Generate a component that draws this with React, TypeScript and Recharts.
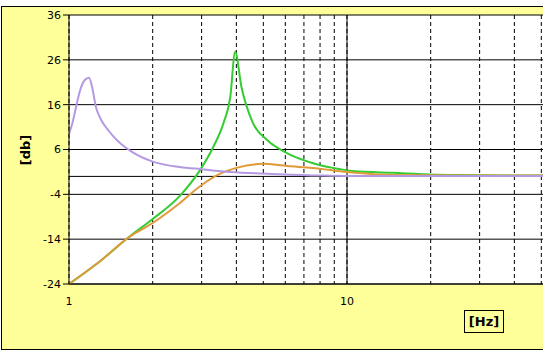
import React from 'react';
import { LineChart, Line, XAxis, YAxis, CartesianGrid, ReferenceLine } from 'recharts';

// frequency [Hz] / level [db]
const purpleHz = [1, 1.03, 1.06, 1.1, 1.14, 1.18, 1.21, 1.25, 1.3, 1.38, 1.46, 1.69, 2, 2.5, 3, 3.8, 5.7, 8, 10, 20, 50, 100];
const purpleDb = [9.5, 12, 15.5, 19.5, 21.5, 22, 20, 15.5, 12.8, 10.4, 8.6, 5.4, 3.3, 2.1, 1.6, 1.0, 0.5, 0.2, 0.1, 0.1, 0.1, 0.1];

const greenHz = [1, 1.3, 1.63, 2, 2.5, 2.96, 3.3, 3.6, 3.8, 3.96, 4.17, 4.59, 5.16, 6.08, 7.5, 8.9, 10.5, 14.6, 25, 50, 100];
const greenDb = [-24, -18.8, -13.7, -9.5, -4.4, 1.4, 6.5, 12, 17.5, 27.8, 20, 11.9, 8.1, 5.2, 3.0, 1.9, 1.2, 0.8, 0.3, 0.2, 0.2];

const orangeHz = [1, 1.3, 1.63, 2, 2.5, 2.96, 3.5, 4, 5, 6.1, 7.5, 10, 14.6, 25, 50, 100];
const orangeDb = [-24, -18.8, -13.7, -10.4, -6.0, -2.2, 0.6, 1.9, 2.8, 2.3, 1.9, 1.0, 0.3, 0.2, 0.2, 0.2];

const xTicks = [1, 2, 3, 4, 5, 6, 7, 8, 9, 10, 20, 30, 40, 50, 60, 70, 80, 90, 100];
const xLabels = [1, 10];
const yTicks = [-24, -14, -4, 6, 16, 26, 36];

const toPoints = (hz: number[], db: number[]) => hz.map((x, i) => ({ x, y: db[i] }));

const purpleData = toPoints(purpleHz, purpleDb);
const greenData = toPoints(greenHz, greenDb);
const orangeData = toPoints(orangeHz, orangeDb);

const font = '"DejaVu Sans", Verdana, sans-serif';

export default function App() {
  return (
    <div
      style={{
        position: 'fixed',
        left: 0,
        top: 0,
        width: 543,
        height: 353,
        overflow: 'hidden',
        background: '#fff',
        fontFamily: font,
      }}
    >
      <div
        style={{
          position: 'absolute',
          left: 1,
          top: 6,
          width: 700,
          height: 342,
          background: '#FFFF99',
          border: '1px solid #000',
        }}
      />
      <div style={{ position: 'absolute', left: 0, top: 0 }}>
        <LineChart width={640} height={353} margin={{ top: 15, right: 15, left: 0, bottom: 39 }}>
          <CartesianGrid horizontal={false} vertical={true} stroke="#000" strokeDasharray="4 3" fill="#fff" />
          <CartesianGrid horizontal={true} vertical={false} stroke="#000" />
          <XAxis
            dataKey="x"
            type="number"
            scale="log"
            domain={[1, 100]}
            allowDataOverflow
            ticks={xTicks}
            interval={0}
            tickFormatter={(v: number) => (xLabels.includes(v) ? String(v) : '')}
            tickLine={false}
            tickSize={6}
            tickMargin={7}
            height={30}
            axisLine={{ stroke: '#000' }}
            tick={{ fill: '#000', fontSize: 11, fontFamily: font }}
          />
          <YAxis
            type="number"
            domain={[-24, 36]}
            ticks={yTicks}
            interval={0}
            width={69}
            tickSize={6}
            tickMargin={2}
            axisLine={{ stroke: '#000' }}
            tickLine={{ stroke: '#000' }}
            tick={{ fill: '#000', fontSize: 11, fontFamily: font }}
          />
          <ReferenceLine x={10} stroke="#000" />
          <ReferenceLine y={0} stroke="#000" />
          <Line data={greenData} dataKey="y" type="monotone" stroke="#33CC33" strokeWidth={2} dot={false} isAnimationActive={false} />
          <Line data={orangeData} dataKey="y" type="monotone" stroke="#E09A3A" strokeWidth={2} dot={false} isAnimationActive={false} />
          <Line data={purpleData} dataKey="y" type="monotone" stroke="#B39AE3" strokeWidth={2} dot={false} isAnimationActive={false} />
        </LineChart>
      </div>
      <div
        style={{
          position: 'absolute',
          left: 25,
          top: 150,
          transform: 'translate(-50%, -50%) rotate(-90deg)',
          fontWeight: 'bold',
          fontSize: 13,
          color: '#000',
          whiteSpace: 'nowrap',
        }}
      >
        [db]
      </div>
      <div
        style={{
          position: 'absolute',
          left: 464,
          top: 310,
          width: 38,
          height: 21,
          border: '1px solid #000',
          fontWeight: 'bold',
          fontSize: 13,
          lineHeight: '21px',
          textAlign: 'center',
          color: '#000',
        }}
      >
        [Hz]
      </div>
    </div>
  );
}
